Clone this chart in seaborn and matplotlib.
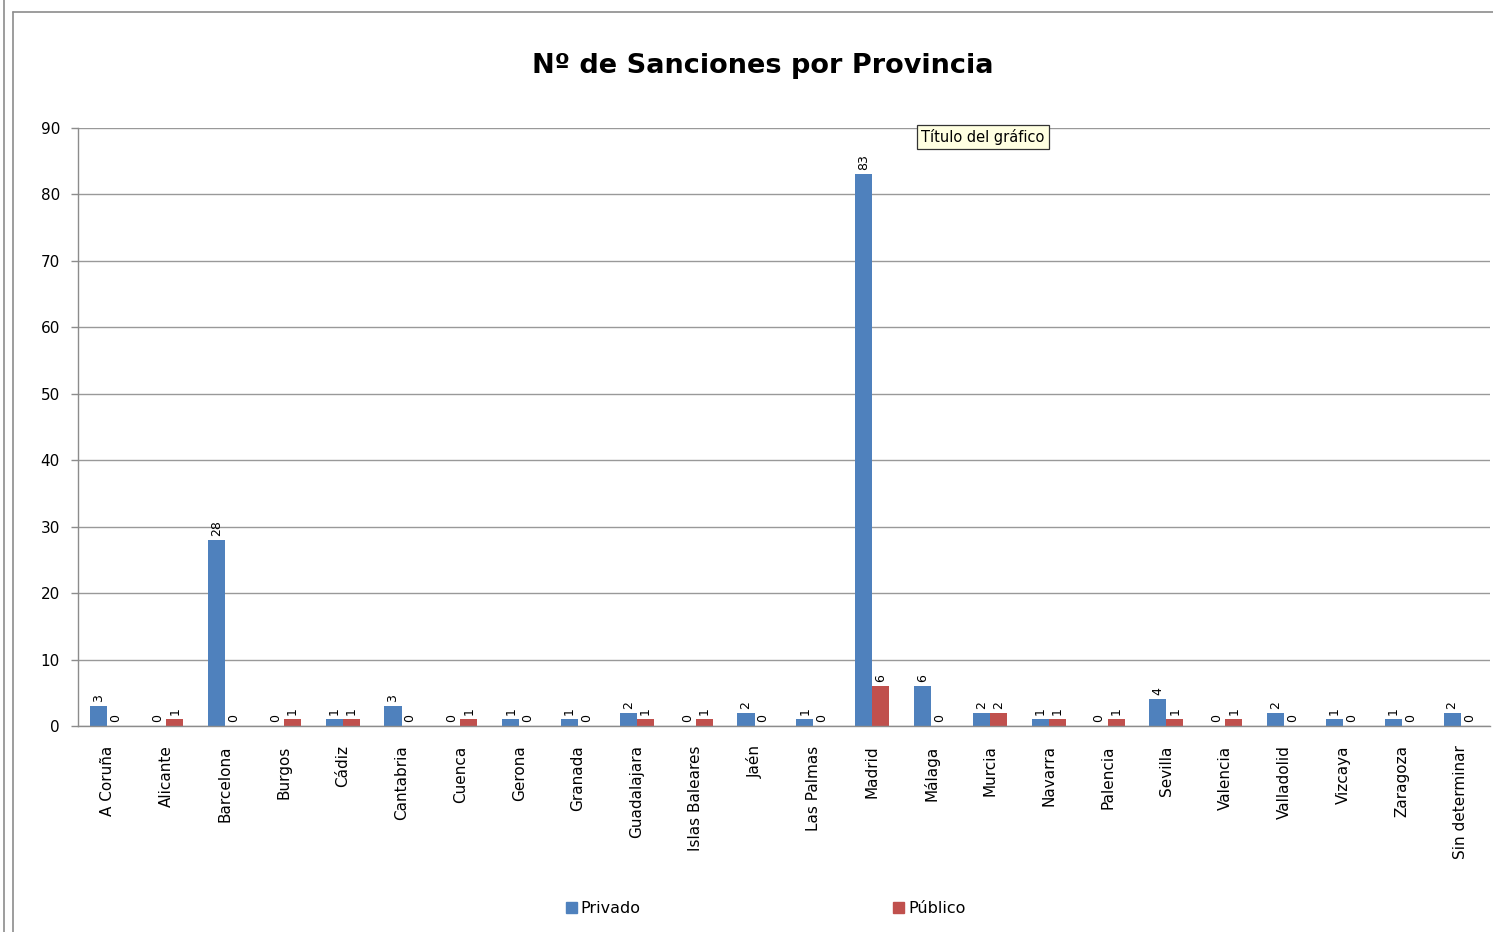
import matplotlib
matplotlib.use("Agg")
import matplotlib.pyplot as plt
from matplotlib.patches import Rectangle
from matplotlib.ticker import FixedLocator
import seaborn as sns
import pandas as pd

provincias = ["A Coruña", "Alicante", "Barcelona", "Burgos", "Cádiz", "Cantabria",
              "Cuenca", "Gerona", "Granada", "Guadalajara", "Islas Baleares", "Jaén",
              "Las Palmas", "Madrid", "Málaga", "Murcia", "Navarra", "Palencia",
              "Sevilla", "Valencia", "Valladolid", "Vizcaya", "Zaragoza", "Sin determinar"]
privado = [3, 0, 28, 0, 1, 3, 0, 1, 1, 2, 0, 2, 1, 83, 6, 2, 1, 0, 4, 0, 2, 1, 1, 2]
publico = [0, 1, 0, 1, 1, 0, 1, 0, 0, 1, 1, 0, 0, 6, 0, 2, 1, 1, 1, 1, 0, 0, 0, 0]
series = ["Privado", "Público"]
colores = ["#4F81BD", "#C0504D"]
y_ticks = [0, 10, 20, 30, 40, 50, 60, 70, 80, 90]

df = pd.DataFrame({
    "Provincia": provincias * 2,
    "Tipo": [series[0]] * len(provincias) + [series[1]] * len(provincias),
    "Valor": privado + publico,
})

sns.set_style("white")
plt.rcParams['font.family'] = ['DejaVu Sans']
plt.rcParams['text.color'] = 'black'
plt.rcParams['xtick.color'] = 'black'
plt.rcParams['ytick.color'] = 'black'

fig = plt.figure(figsize=(14.93, 9.32), dpi=100)
ax = fig.add_axes([0.0522, 0.221, 0.9458, 0.6417])

sns.barplot(data=df, x="Provincia", y="Valor", hue="Tipo", palette=colores,
            width=0.58, ax=ax, saturation=1, legend=True, errorbar=None,
            linewidth=0, edgecolor="none")

ax.set_ylim(0, 90)
ax.set_xlim(-0.5, len(provincias) - 0.5)
ax.set_yticks(y_ticks)
ax.grid(axis="y", color="#999999", linewidth=1.0)
ax.set_axisbelow(True)
for s in ["top", "right"]:
    ax.spines[s].set_visible(False)
for s in ["left", "bottom"]:
    ax.spines[s].set_color("#8c8c8c")
    ax.spines[s].set_linewidth(1.0)

ax.set_xlabel("")
ax.set_ylabel("")
ax.tick_params(axis="x", which="major", length=0, labelrotation=90, labelsize=11,
               pad=14, labelcolor="black")
ax.xaxis.set_minor_locator(FixedLocator([i - 0.5 for i in range(len(provincias) + 1)]))
ax.tick_params(axis="x", which="minor", length=6, color="#8c8c8c", width=1.0)
ax.tick_params(axis="y", length=5, color="#8c8c8c", width=1.0, labelsize=11, left=True,
               pad=8, labelcolor="black")

for cont in ax.containers:
    ax.bar_label(cont, fmt="%d", rotation=90, fontsize=9, padding=3, color="black")

ax.legend_.remove()
handles = [Rectangle((0, 0), 1, 1, color=c) for c in colores]
fig.legend(handles, series, loc="center", bbox_to_anchor=(0.5128, 0.025), ncol=2,
           frameon=False, fontsize=11.5, columnspacing=15.8, handlelength=0.7,
           handleheight=0.7, handletextpad=0.25, labelcolor="black")

fig.text(0.511, 0.929, "Nº de Sanciones por Provincia", ha="center", va="center",
         fontsize=19.5, fontweight="bold", color="black")

fig.text(0.617, 0.853, "Título del gráfico", ha="left", va="center", fontsize=10.5,
         color="black",
         bbox=dict(boxstyle="square,pad=0.3", facecolor="#FFFFE1", edgecolor="#333333", linewidth=0.9))

# outer frame lines
fig.add_artist(plt.Line2D([0.003, 0.003], [0, 1], color="#8c8c8c", linewidth=1.2, transform=fig.transFigure))
fig.add_artist(plt.Line2D([0.009, 0.009], [0, 0.987], color="#8c8c8c", linewidth=1.2, transform=fig.transFigure))
fig.add_artist(plt.Line2D([0.009, 1.0], [0.987, 0.987], color="#8c8c8c", linewidth=1.2, transform=fig.transFigure))

fig.savefig("out.png", dpi=100)
